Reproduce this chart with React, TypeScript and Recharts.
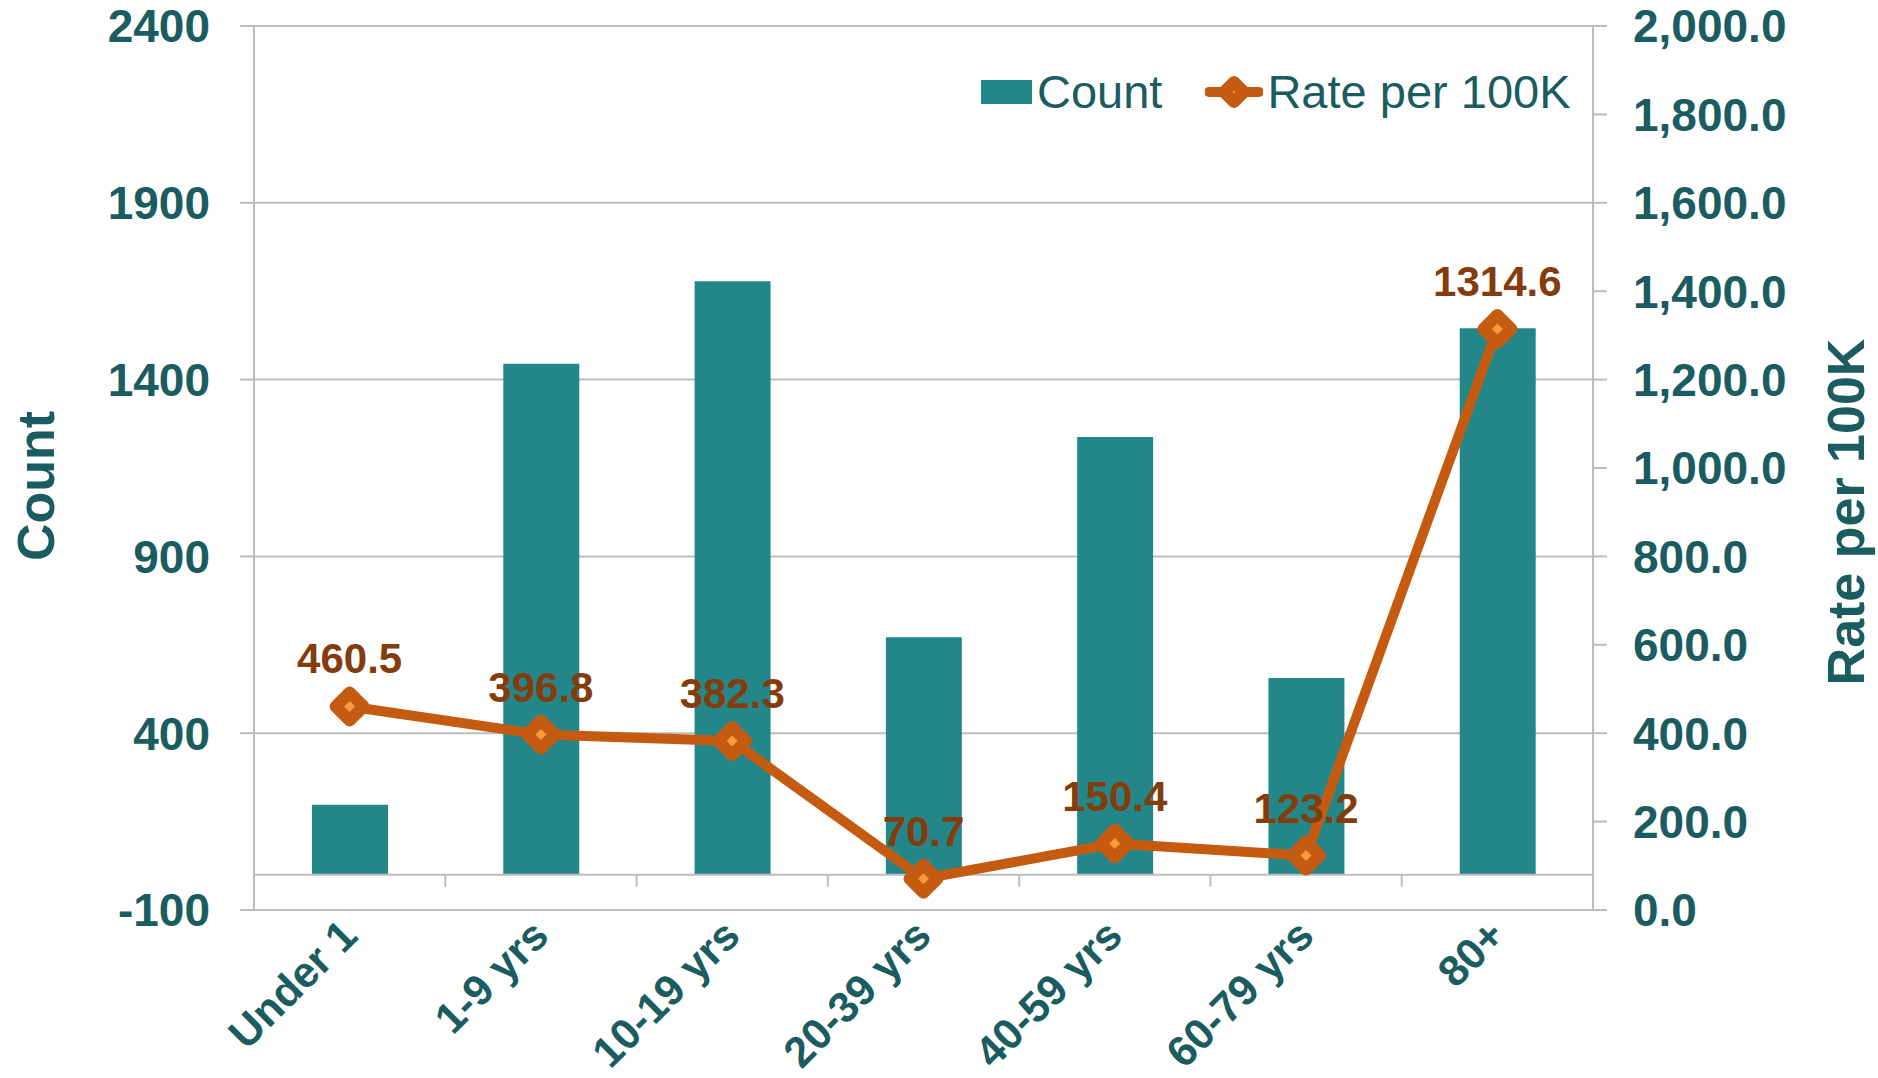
import React from 'react';
import {
  ComposedChart, Bar, Line, XAxis, YAxis, CartesianGrid, ReferenceLine, LabelList, Legend,
} from 'recharts';

// values
const ageGroups = ['Under 1', '1-9 yrs', '10-19 yrs', '20-39 yrs', '40-59 yrs', '60-79 yrs', '80+'];
const counts = [198, 1445, 1678, 671, 1238, 556, 1545];
const rates = [460.5, 396.8, 382.3, 70.7, 150.4, 123.2, 1314.6];

const countTicks = [-100, 400, 900, 1400, 1900, 2400];
const rateTicks = [0, 200, 400, 600, 800, 1000, 1200, 1400, 1600, 1800, 2000];

const data = ageGroups.map((name, i) => ({ name, count: counts[i], rate: rates[i] }));

const W = 1878;
const H = 1078;
const PLOT_TOP = 26;
const PLOT_BOTTOM = 910;
const PLOT_LEFT = 254;
const PLOT_RIGHT = 1593;
const BAND = (PLOT_RIGHT - PLOT_LEFT) / ageGroups.length;
// distance from plot bottom (-100) up to the count = 0 line
const ZERO_UP = ((PLOT_BOTTOM - PLOT_TOP) * (0 - countTicks[0])) / (countTicks[countTicks.length - 1] - countTicks[0]);

const TEXT = '#1A5C5F';
const BAR = '#23878A';
const LINE = '#C55A11';
const DOT_FILL = '#F79A3A';
const LABEL = '#843C0C';
const GRID = '#BDBDBD';
const FONT = '"Liberation Sans", Arial, sans-serif';

const fmtRate = (v: number) =>
  v.toLocaleString('en-US', { minimumFractionDigits: 1, maximumFractionDigits: 1 });

function Diamond({ cx, cy, size = 14 }: { cx?: number; cy?: number; size?: number }) {
  if (cx == null || cy == null) return null;
  const d = `M${cx},${cy - size} L${cx + size},${cy} L${cx},${cy + size} L${cx - size},${cy} Z`;
  return <path d={d} fill={DOT_FILL} stroke={LINE} strokeWidth={12} strokeLinejoin="round" />;
}

function CategoryTick(props: any) {
  const { x, y, payload } = props;
  const half = payload && payload.offset ? payload.offset : BAND / 2;
  const zeroY = y - ZERO_UP;
  const tx = x + 10;
  const ty = y + 28;
  return (
    <g>
      <line x1={x + half} x2={x + half} y1={zeroY} y2={zeroY + 12} stroke={GRID} strokeWidth={2} />
      <text
        x={tx}
        y={ty}
        transform={`rotate(-45 ${tx} ${ty})`}
        textAnchor="end"
        fill={TEXT}
        fontFamily={FONT}
        fontWeight="bold"
        fontSize={43}
      >
        {payload.value}
      </text>
    </g>
  );
}

function LegendBox() {
  const item: React.CSSProperties = { display: 'flex', alignItems: 'center' };
  return (
    <div style={{ display: 'flex', alignItems: 'center', fontFamily: FONT, fontSize: 47, color: TEXT, lineHeight: 1 }}>
      <div style={item}>
        <div style={{ width: 51, height: 24, background: BAR, marginRight: 5 }} />
        <span>Count</span>
      </div>
      <div style={{ ...item, marginLeft: 43 }}>
        <svg width={58} height={40} style={{ marginRight: 4 }}>
          <line x1={4} x2={54} y1={20} y2={20} stroke={LINE} strokeWidth={10} strokeLinecap="round" />
          <Diamond cx={29} cy={20} size={10} />
        </svg>
        <span>Rate per 100K</span>
      </div>
    </div>
  );
}

export default function App() {
  return (
    <div style={{ position: 'absolute', left: 0, top: 0, width: W, height: H, background: '#fff' }}>
      <ComposedChart
        width={W}
        height={H}
        data={data}
        margin={{ top: PLOT_TOP, right: 55, bottom: 8, left: 74 }}
      >
        <CartesianGrid yAxisId="count" horizontal vertical={false} stroke={GRID} strokeWidth={2} />
        <XAxis
          dataKey="name"
          type="category"
          height={160}
          axisLine={false}
          tickLine={false}
          tickSize={0}
          tickMargin={0}
          interval={0}
          tick={<CategoryTick />}
        />
        <YAxis
          yAxisId="count"
          orientation="left"
          width={180}
          domain={[countTicks[0], countTicks[countTicks.length - 1]]}
          ticks={countTicks}
          interval={0}
          allowDataOverflow
          axisLine={{ stroke: GRID, strokeWidth: 2 }}
          tickLine={{ stroke: GRID, strokeWidth: 2 }}
          tickSize={14}
          tickMargin={30}
          tick={{ fill: TEXT, fontFamily: FONT, fontWeight: 'bold', fontSize: 46 }}
          label={{
            value: 'Count',
            content: () => (
              <text x={36} y={486} transform="rotate(-90 36 486)" textAnchor="middle" dominantBaseline="central"
                fill={TEXT} fontFamily={FONT} fontWeight="bold" fontSize={52}>Count</text>
            ),
          }}
        />
        <YAxis
          yAxisId="rate"
          orientation="right"
          width={230}
          domain={[rateTicks[0], rateTicks[rateTicks.length - 1]]}
          ticks={rateTicks}
          interval={0}
          axisLine={{ stroke: GRID, strokeWidth: 2 }}
          tickLine={{ stroke: GRID, strokeWidth: 2 }}
          tickSize={14}
          tickMargin={26}
          tickFormatter={fmtRate}
          tick={{ fill: TEXT, fontFamily: FONT, fontWeight: 'bold', fontSize: 46, textAnchor: 'start' }}
          label={{
            value: 'Rate per 100K',
            content: () => (
              <text x={1846} y={512} transform="rotate(-90 1846 512)" textAnchor="middle" dominantBaseline="central"
                fill={TEXT} fontFamily={FONT} fontWeight="bold" fontSize={52}>Rate per 100K</text>
            ),
          }}
        />
        <ReferenceLine yAxisId="count" y={0} stroke={GRID} strokeWidth={2} />
        <Legend
          layout="horizontal"
          verticalAlign="middle"
          align="center"
          content={() => <LegendBox />}
          wrapperStyle={{ top: 68, left: 981, width: 640 }}
        />
        <Bar yAxisId="count" dataKey="count" name="Count" fill={BAR} barSize={76} isAnimationActive={false} />
        <Line
          yAxisId="rate"
          dataKey="rate"
          name="Rate per 100K"
          stroke={LINE}
          strokeWidth={10}
          dot={<Diamond />}
          activeDot={false}
          isAnimationActive={false}
        >
          <LabelList
            dataKey="rate"
            position="top"
            offset={33}
            formatter={(v: any) => Number(v).toFixed(1)}
            fill={LABEL}
            fontFamily={FONT}
            fontWeight="bold"
            fontSize={42}
          />
        </Line>
      </ComposedChart>
    </div>
  );
}
